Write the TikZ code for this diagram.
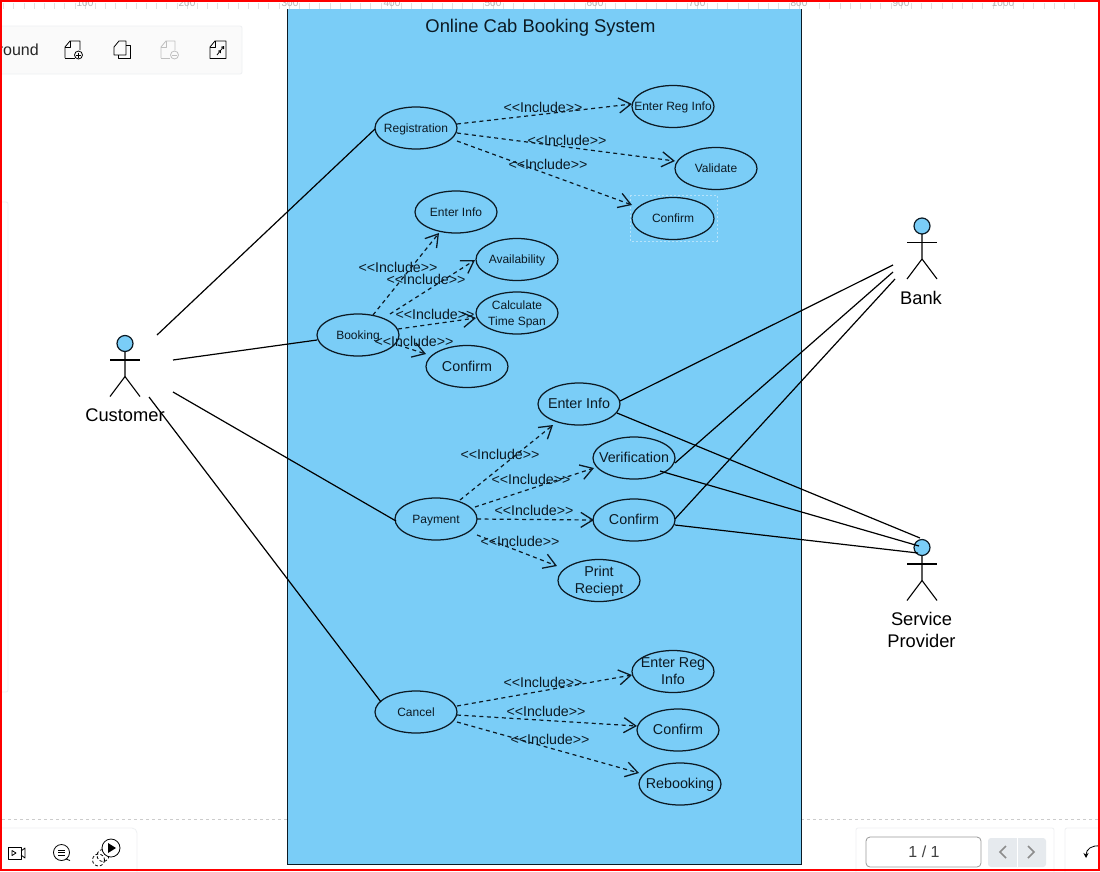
\documentclass[tikz,border=0pt]{standalone}
\usepackage{fontspec}
\setmainfont{Liberation Sans}
\usetikzlibrary{shapes.geometric,arrows.meta}
\definecolor{skyfill}{HTML}{7ACDF7}
\definecolor{inkc}{HTML}{0C1A24}
\definecolor{panelline}{HTML}{EEF0F2}
\definecolor{navbtn}{HTML}{E6EAEE}
\tikzset{
  x=1pt,y=-1pt,
  uc/.style={ellipse,draw=inkc,line width=1.25pt,minimum width=82pt,minimum height=42pt,inner sep=0pt,text=inkc,font=\fontsize{12}{16}\selectfont},
  ucb/.style={uc,font=\fontsize{14.3}{17}\selectfont},
  inc/.style={draw=inkc,line width=1.2pt,dash pattern=on 4pt off 3.5pt,-{Straight Barb[length=12pt,width=15pt,line width=1.3pt]}},
  lbl/.style={font=\fontsize{14.2}{16}\selectfont,text=inkc,inner sep=0pt},
  assoc/.style={draw=black,line width=1.2pt},
  head/.style={circle,draw=inkc,line width=1.2pt,fill=skyfill,minimum size=16pt,inner sep=0pt},
  limb/.style={draw=black,line width=1.1pt},
  actorname/.style={font=\fontsize{18.3}{22}\selectfont,align=center,text=black,inner sep=0pt},
  ui/.style={draw=black,line width=0.8pt,line join=round},
  uifaint/.style={draw=black!25,line width=0.8pt,line join=round},
  uipanel/.style={draw=panelline,line width=0.8pt,rounded corners=2pt},
  tick/.style={draw=black!12,line width=0.6pt},
  rulernum/.style={font=\fontsize{10}{12}\selectfont,text=black!30,inner sep=0pt},
}
% keeps every use case at its fixed size, whatever its text
\newcommand{\uctext}[1]{\makebox[0pt]{\smash{\raisebox{-0.33em}{\begin{tabular}{@{}c@{}}#1\end{tabular}}}}}
\newcommand{\actorfig}[1]{%
  \draw[limb] ([shift={(0,8)}]#1.center) -- ++(0,25) -- ++(-15,20);
  \draw[limb] ([shift={(0,33)}]#1.center) -- ++(15,20);
  \draw[limb] ([shift={(-15,16.5)}]#1.center) -- ++(30,0);
}
\begin{document}
\begin{tikzpicture}
\useasboundingbox (0,0) rectangle (1100,871);
\fill[white] (0,0) rectangle (1100,871);
% ruler
\foreach \i in {0,...,107} {\draw[tick] ({-17+\i*10.2},{(mod(\i,10)==0)?0:3}) -- ({-17+\i*10.2},9);}
\foreach \p/\n in {85/100,187/200,901/900,1003/1000}
  {\node[rulernum] (r\n) at (\p,3) {\n};}
% toolbar top
\draw[uipanel,fill=black!2] (-3,26) rectangle (242,74);
\node[anchor=base east,inner sep=0pt,font=\fontsize{16}{18}\selectfont,text=black!85] (roundtxt) at (39,55) {round};
% icon 1
\draw[ui] (65,58) -- (65,47) -- (70,41) -- (80,41) -- (80,50);
\draw[ui] (65,58) -- (75,58);
\draw[ui] (70,41) -- (70,47) -- (65,47);
\draw[ui] (78.5,55) circle (4);
\draw[ui] (76,55) -- (81,55) (78.5,52.5) -- (78.5,57.5);
% icon 2
\draw[ui] (114,55) -- (114,47) -- (119,41) -- (126,41) -- (126,55) -- cycle;
\draw[ui] (126,45) -- (130,45) -- (130,58.5) -- (118,58.5) -- (118,55);
% icon 3
\draw[uifaint] (161,58) -- (161,47) -- (166,41) -- (175,41) -- (175,50);
\draw[uifaint] (161,58) -- (170,58);
\draw[uifaint] (166,41) -- (166,47) -- (161,47);
\draw[uifaint] (174.5,55) circle (4);
\draw[uifaint] (172,55) -- (177,55);
% icon 4
\draw[ui] (210,58.5) -- (210,47) -- (215,41) -- (226,41) -- (226,58.5) -- cycle;
\draw[ui] (215,41) -- (215,47) -- (210,47);
\draw[ui,-{Straight Barb[length=2pt,width=3pt]}] (217,55) -- (221,50);
\draw[ui,-{Straight Barb[length=2pt,width=3pt]}] (221,50) -- (224,46);
% left strip
\draw[panelline,line width=0.8pt,rounded corners=2pt] (-3,202) -- (8,202) -- (8,692) -- (-3,692);
% bottom line
\draw[black!20,line width=0.8pt,dash pattern=on 3pt off 3pt] (2,819) -- (287,819);
\draw[black!20,line width=0.8pt,dash pattern=on 3pt off 3pt] (801,819) -- (1100,819);
% bottom panels
\draw[uipanel] (-3,828) -- (134,828) -- (137,831) -- (137,875);
\draw[uipanel] (856,875) -- (856,828) -- (1054,828) -- (1054,875);
\draw[uipanel] (1065,875) -- (1065,828) -- (1105,828);
% bottom icons
\draw[ui] (8,847) rectangle (21,859);
\draw[ui] (21,851) -- (25,848) -- (25,858) -- (21,855);
\draw[ui] (12,850.5) -- (16,853) -- (12,855.5) -- cycle;
\draw[ui] (61.5,852.5) circle (8);
\draw[ui] (58,850) -- (65,850) (58,852.5) -- (65,852.5) (58,855) -- (65,855);
\draw[ui] (66,859) -- (70,860.5);
\draw[ui,densely dashed,black] (98.5,860) circle (6);
\draw[ui,densely dashed,black] (103,855.5) circle (6);
\draw[ui,fill=white] (111,848) circle (9);
\fill[black] (108,843) -- (116,848) -- (108,853) -- cycle;
\draw[black!40,line width=0.8pt,rounded corners=4pt,fill=white] (866,837) rectangle (981,867);
\node[inner sep=0pt,font=\fontsize{16}{18}\selectfont,text=black!75] (pageno) at (924,851.5) {1 / 1};
\fill[navbtn,rounded corners=3pt] (988,838) rectangle (1046,867);
\fill[white] (1016.5,838) rectangle (1017.5,867);
\draw[black!45,line width=1.6pt] (1006,846) -- (1000,852) -- (1006,858);
\draw[black!45,line width=1.6pt] (1028,846) -- (1034,852) -- (1028,858);
\draw[ui,-{Stealth[length=5pt,width=5pt]}] (1100,846) .. controls (1092,845) and (1086,849) .. (1086,858);
% system boundary
\node[draw=inkc,fill=skyfill,line width=1pt,minimum width=514pt,minimum height=860pt,inner sep=0pt,anchor=north west] (sys) at (287,4) {};
\fill[white] (280,0) rectangle (810,9);
\foreach \i in {30,...,80} {\draw[tick] ({-17+\i*10.2},{(mod(\i,10)==0)?0:3}) -- ({-17+\i*10.2},9);}
\foreach \p/\n in {290/300,392/400,493/500,595/600,697/700,799/800}
  {\node[rulernum] (s\n) at (\p,3) {\n};}
\draw[inkc,line width=1pt] (287,9) -- (287,864) (801,9) -- (801,864);
\node[inner sep=0pt,font=\fontsize{18.4}{22}\selectfont,text=inkc] (title) at (540.5,28) {Online Cab Booking System};
% selection marker
\draw[white!45!skyfill,line width=0.8pt,dash pattern=on 2pt off 2pt] (630,195) rectangle (717,241);
% use cases
\node[uc] (reg) at (416,128) {\uctext{Registration}};
\node[uc] (era) at (673,106.5) {\uctext{Enter Reg Info}};
\node[uc] (val) at (716,168.5) {\uctext{Validate}};
\node[uc] (cfa) at (673,218.5) {\uctext{Confirm}};
\node[uc] (bk) at (358,335) {\uctext{Booking}};
\node[uc] (eib) at (456,212) {\uctext{Enter Info}};
\node[uc] (av) at (517,259.5) {\uctext{Availability}};
\node[uc] (cts) at (517,313) {\uctext{Calculate\\Time Span}};
\node[ucb] (cfb) at (467,366.5) {\uctext{Confirm}};
\node[uc] (pay) at (436,519) {\uctext{Payment}};
\node[ucb] (eip) at (579,404) {\uctext{Enter Info}};
\node[ucb] (ver) at (634,458) {\uctext{Verification}};
\node[ucb] (cfp) at (634,520) {\uctext{Confirm}};
\node[ucb] (pr) at (599,580.5) {\uctext{Print\\Reciept}};
\node[uc] (can) at (416,712) {\uctext{Cancel}};
\node[ucb] (erc) at (673,671.5) {\uctext{Enter Reg\\Info}};
\node[ucb] (cfc) at (678,730) {\uctext{Confirm}};
\node[ucb] (reb) at (680,784) {\uctext{Rebooking}};
% includes
\draw[inc] ([shift={(41,-4)}]reg.center) -- ([shift={(-41,-2.5)}]era.center);
\draw[inc] ([shift={(41,5)}]reg.center) -- ([shift={(-41,-7.5)}]val.center);
\draw[inc] ([shift={(41,13)}]reg.center) -- ([shift={(-41,-13.5)}]cfa.center);
\draw[inc] ([shift={(15,-20)}]bk.center) -- ([shift={(-17,21)}]eib.center);
\draw[inc] ([shift={(32,-21)}]bk.center) -- ([shift={(-42,0.5)}]av.center);
\draw[inc] ([shift={(40,-6)}]bk.center) -- ([shift={(-41,5)}]cts.center);
\draw[inc] ([shift={(40,10)}]bk.center) -- ([shift={(-41,-12.5)}]cfb.center);
\draw[inc] ([shift={(24,-19)}]pay.center) -- ([shift={(-26,21)}]eip.center);
\draw[inc] ([shift={(39,-12)}]pay.center) -- ([shift={(-40,10)}]ver.center);
\draw[inc] ([shift={(41,0)}]pay.center) -- ([shift={(-40,0)}]cfp.center);
\draw[inc] ([shift={(41,16)}]pay.center) -- ([shift={(-42,-14.5)}]pr.center);
\draw[inc] ([shift={(41,-6)}]can.center) -- ([shift={(-41,3.5)}]erc.center);
\draw[inc] ([shift={(41,3)}]can.center) -- ([shift={(-41,-4)}]cfc.center);
\draw[inc] ([shift={(41,10)}]can.center) -- ([shift={(-41,-11)}]reb.center);
% include labels
\foreach \n/\p/\q in {a/543/107,b/567/140,c/548/164,d/398/267,e/426/279,f/435/314,g/414/341,h/500/454,i/531/479,j/534/510,k/520/541,l/543/682,m/546/711,n/550/739}
  {\node[lbl] (lab\n) at (\p,\q) {<{}<Include>{}>};}
% actors
\node[head] (cust) at (125,343.5) {};
\actorfig{cust}
\node[actorname] (custn) at (125,415) {Customer};
\node[head] (bank) at (922,226) {};
\actorfig{bank}
\node[actorname] (bankn) at (921,298) {Bank};
\node[head] (sp) at (922,547.5) {};
\actorfig{sp}
\node[actorname] (spn) at (921.5,630) {Service\\Provider};
% associations
\draw[assoc] ([shift={(32,-8.5)}]cust.center) -- ([shift={(-41,1)}]reg.center);
\draw[assoc] ([shift={(48,16.5)}]cust.center) -- ([shift={(-41,5)}]bk.center);
\draw[assoc] ([shift={(48,48.5)}]cust.center) -- ([shift={(-40,2)}]pay.center);
\draw[assoc] ([shift={(24,53.5)}]cust.center) -- ([shift={(-35,-10)}]can.center);
\draw[assoc] ([shift={(41,-3)}]eip.center) -- ([shift={(-29,39)}]bank.center);
\draw[assoc] ([shift={(41,5)}]ver.center) -- ([shift={(-29,46)}]bank.center);
\draw[assoc] ([shift={(41,-1)}]cfp.center) -- ([shift={(-27,53)}]bank.center);
\draw[assoc] ([shift={(38,9)}]eip.center) -- ([shift={(-2,-9.5)}]sp.center);
\draw[assoc] ([shift={(26,13)}]ver.center) -- ([shift={(-3,-1.5)}]sp.center);
\draw[assoc] ([shift={(41,5)}]cfp.center) -- ([shift={(-4,5.5)}]sp.center);
% red frame
\draw[red,line width=2pt] (1,1) rectangle (1099,869.5);
\end{tikzpicture}
\end{document}
